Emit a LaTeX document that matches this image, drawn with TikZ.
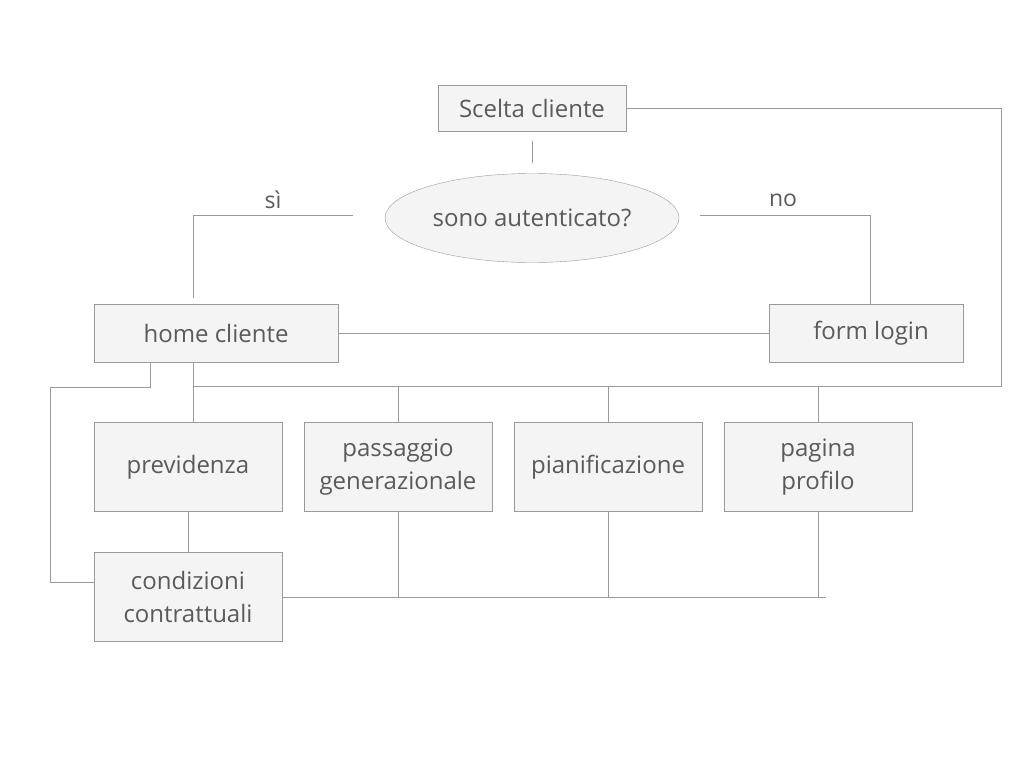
\documentclass[tikz,border=0pt]{standalone}
\usepackage{fontspec}
\setmainfont{Open Sans}
\usetikzlibrary{shapes.geometric}

\definecolor{linegray}{HTML}{9A9A9A}
\definecolor{boxfill}{HTML}{F4F4F4}
\definecolor{txtgray}{HTML}{5A5A5A}

\tikzset{
  pagebox/.style={draw=linegray, fill=boxfill, text=txtgray, align=center,
    inner sep=0pt, minimum width=188pt, minimum height=89pt,
    font=\fontsize{24}{33}\selectfont},
  choice/.style={ellipse, draw=linegray, fill=boxfill, text=txtgray,
    inner sep=0pt, minimum width=294pt, minimum height=89pt,
    font=\fontsize{24}{33}\selectfont},
  answer/.style={text=txtgray, font=\fontsize{23}{26}\selectfont},
  conn/.style={draw=linegray, line width=0.8pt}
}

\begin{document}
\begin{tikzpicture}[x=1pt,y=-1pt]
    \useasboundingbox (0,0) rectangle (1024,768);
    % top
    \node[pagebox, minimum width=188pt, minimum height=46pt] (scelta) at (532,108) {Scelta cliente};
    \node[choice] (auth) at (532,218) {sono autenticato?};
    \node[answer] (si) at (273,200) {sì};
    \node[answer] (no) at (783,200) {no};
    \node[pagebox, minimum width=244pt, minimum height=58pt] (home) at (216,333) {home cliente};
    \node[pagebox, minimum width=194pt, minimum height=58pt] (login) at (866,333) {\hspace{10pt}form login};
    % pages
    \node[pagebox] (prev) at (188,467) {previdenza};
    \node[pagebox] (pass) at (398,467) {passaggio\\generazionale};
    \node[pagebox] (pian) at (608,467) {pianificazione};
    \node[pagebox] (prof) at (818,467) {pagina\\profilo};
    \node[pagebox] (cond) at (188,597) {condizioni\\contrattuali};
    %
    \coordinate (busL) at (193,386);
    \coordinate (busR) at (1001,386);
    \coordinate (siEnd) at (353,215);
    \coordinate (noEnd) at (700,215);
    \coordinate (homeL) at ([xshift=-66pt]home.south);
    \coordinate (loopL) at (50,387);
    %
    \draw[conn] ([yshift=-10pt]scelta.south) -- ([yshift=10pt]auth.north);
    \draw[conn] (siEnd) -| ([yshift=6pt]home.north -| busL);
    \draw[conn] (noEnd) -| ([xshift=4pt]login.north);
    \draw[conn] (home.east) -- (login.west);
    \draw[conn] (scelta.east) -| (busR) -- (busL);
    \draw[conn] (home.south -| busL) -- (busL |- prev.north);
    \foreach \n in {pass,pian,prof} {
      \draw[conn] (busL -| \n.north) -- (\n.north);
    }
    \draw[conn] (homeL) -- (homeL |- loopL) -- (loopL) |- ([yshift=15pt]cond.west);
    \draw[conn] (prev.south) -- (cond.north);
    \draw[conn] (cond.east) -- ([xshift=8pt]prof.south |- cond.east);
    \foreach \n in {pass,pian,prof} {
      \draw[conn] (\n.south) -- (\n.south |- cond.east);
    }
\end{tikzpicture}
\end{document}
